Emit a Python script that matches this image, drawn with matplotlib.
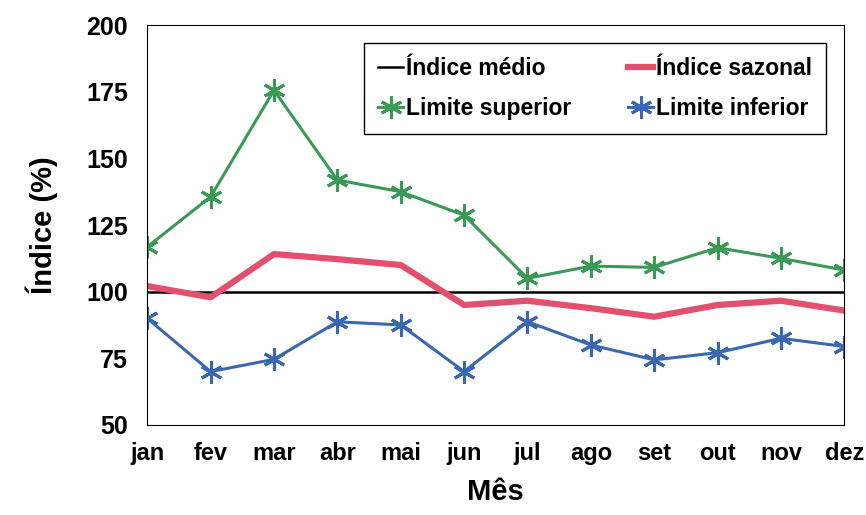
import numpy as np
import matplotlib.pyplot as plt

meses = ['jan', 'fev', 'mar', 'abr', 'mai', 'jun', 'jul', 'ago', 'set', 'out', 'nov', 'dez']
indice_medio = [100] * 12
indice_sazonal = [102.1, 97.9, 114.1, 112.2, 110.0, 95.0, 96.6, 93.8, 90.6, 95.0, 96.6, 92.9]
limite_superior = [116.8, 135.6, 175.6, 141.9, 137.5, 128.7, 105.0, 109.6, 109.1, 116.5, 112.5, 108.1]
limite_inferior = [90.0, 70.0, 74.6, 88.7, 87.5, 70.0, 88.7, 80.0, 74.4, 77.1, 82.5, 79.4]

plt.rcParams['font.family'] = ['Liberation Sans', 'DejaVu Sans']
plt.rcParams['font.weight'] = 'bold'

fig = plt.figure(figsize=(8.66, 5.15), dpi=100)
ax = fig.add_axes([0.170, 0.175, 0.805, 0.776])

x = np.arange(len(meses))
estrela = (6, 2, 0)

l1, = ax.plot(x, indice_medio, color='black', lw=1.8, label='Índice médio')
l2, = ax.plot(x, indice_sazonal, color='#e2506e', lw=4.5, label='Índice sazonal')
l3, = ax.plot(x, limite_superior, color='#3a9a55', lw=2.2, marker=estrela,
              markersize=16, markeredgewidth=2.2, label='Limite superior')
l4, = ax.plot(x, limite_inferior, color='#3a68b0', lw=2.2, marker=estrela,
              markersize=16, markeredgewidth=2.2, label='Limite inferior')

ax.set_xlim(0, 11)
ax.set_ylim(50, 200)
ax.set_yticks([50, 75, 100, 125, 150, 175, 200])
ax.set_xticks(x)
ax.set_xticklabels(meses)
ax.tick_params(axis='y', length=0, labelsize=18, pad=14)
ax.tick_params(axis='x', length=0, labelsize=17, pad=12)
for s in ax.spines.values():
    s.set_linewidth(0.8)

ax.set_xlabel('Mês', fontsize=21, fontweight='bold', labelpad=10)
ax.set_ylabel('Índice (%)', fontsize=21, fontweight='bold', labelpad=20)

leg = ax.legend([l1, l3, l2, l4],
                ['Índice médio', 'Limite superior', 'Índice sazonal', 'Limite inferior'],
                ncol=2, loc='upper right', bbox_to_anchor=(0.973, 0.955),
                fontsize=16.5, handlelength=1.1, handletextpad=0.1,
                columnspacing=2.5, borderpad=0.6, labelspacing=0.75,
                borderaxespad=0,
                fancybox=False, framealpha=1, edgecolor='black')
leg.get_frame().set_linewidth(1)
for h in leg.legend_handles:
    h.set_markersize(16)

fig.savefig('out.png', dpi=100, facecolor='white')
